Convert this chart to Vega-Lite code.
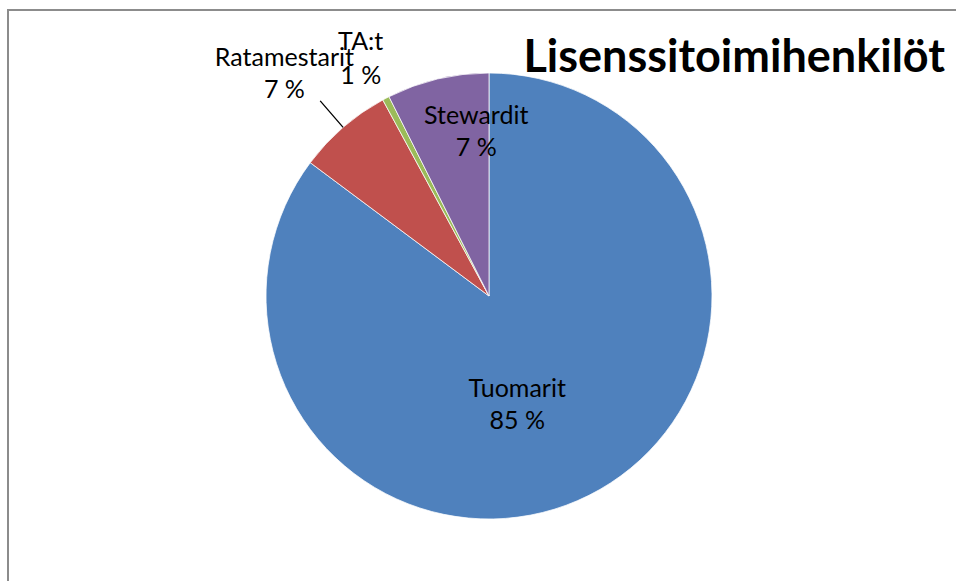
{
  "$schema": "https://vega.github.io/schema/vega-lite/v6.json",
  "width": 948,
  "height": 571,
  "autosize": {"type": "none"},
  "padding": {"left": 8, "top": 10, "right": 0, "bottom": 0},
  "background": "white",
  "view": {"stroke": "#8c8c8c", "strokeWidth": 2, "strokeDash": [948, 1519, 571]},
  "title": {
    "text": "Lisenssitoimihenkilöt",
    "anchor": "end",
    "frame": "group",
    "font": "Lato",
    "fontSize": 45,
    "fontWeight": "bold",
    "color": "black",
    "baseline": "alphabetic",
    "offset": 0,
    "dy": 137,
    "dx": -11
  },
  "data": {
    "values": [
      {"name": "Tuomarit", "value": 85.2, "order": 1, "label": "Tuomarit\n85 %"},
      {"name": "Ratamestarit", "value": 6.9, "order": 2, "label": "Ratamestarit\n7 %"},
      {"name": "TA:t", "value": 0.5, "order": 3, "label": "TA:t\n1 %"},
      {"name": "Stewardit", "value": 7.4, "order": 4, "label": "Stewardit\n7 %"}
    ]
  },
  "encoding": {
    "theta": {"field": "value", "type": "quantitative", "stack": true},
    "order": {"field": "order", "type": "quantitative"}
  },
  "layer": [
    {
      "mark": {"type": "arc", "x": 481, "y": 286, "outerRadius": 223, "stroke": "white", "strokeWidth": 0.75},
      "encoding": {
        "color": {
          "field": "name",
          "type": "nominal",
          "scale": {
            "domain": ["Tuomarit", "Ratamestarit", "TA:t", "Stewardit"],
            "range": ["#4F81BD", "#C0504D", "#9BBB59", "#8064A2"]
          },
          "legend": null
        }
      }
    },
    {
      "mark": {"type": "arc", "x": 481, "y": 286, "outerRadius": 258, "innerRadius": 223, "padAngle": 3, "fill": "transparent", "stroke": "black", "strokeWidth": 1.3},
      "encoding": {
        "strokeOpacity": {"condition": {"test": "datum.name === 'Ratamestarit'", "value": 1}, "value": 0}
      }
    },
    {
      "mark": {"type": "text", "x": 481, "y": 286, "radius": 112, "dx": -22, "dy": -7, "font": "Lato", "fontSize": 25, "lineHeight": 32, "lineBreak": "\n", "color": "black", "align": "center", "baseline": "middle"},
      "encoding": {"text": {"condition": {"test": "datum.name === 'Tuomarit'", "field": "label"}, "value": ""}}
    },
    {
      "mark": {"type": "text", "x": 481, "y": 286, "radius": 164, "dx": 25, "dy": -20, "font": "Lato", "fontSize": 25, "lineHeight": 32, "lineBreak": "\n", "color": "black", "align": "center", "baseline": "middle"},
      "encoding": {"text": {"condition": {"test": "datum.name === 'Stewardit'", "field": "label"}, "value": ""}}
    },
    {
      "mark": {"type": "text", "x": 481, "y": 286, "radius": 302, "dx": -7, "dy": -10, "font": "Lato", "fontSize": 25, "lineHeight": 32, "lineBreak": "\n", "color": "black", "align": "center", "baseline": "middle"},
      "encoding": {"text": {"condition": {"test": "datum.name === 'Ratamestarit'", "field": "label"}, "value": ""}}
    },
    {
      "mark": {"type": "text", "x": 481, "y": 286, "radius": 271, "dx": -3, "dy": -14, "font": "Lato", "fontSize": 25, "lineHeight": 34, "lineBreak": "\n", "color": "black", "align": "center", "baseline": "middle"},
      "encoding": {"text": {"condition": {"test": "datum.name === 'TA:t'", "field": "label"}, "value": ""}}
    }
  ]
}
